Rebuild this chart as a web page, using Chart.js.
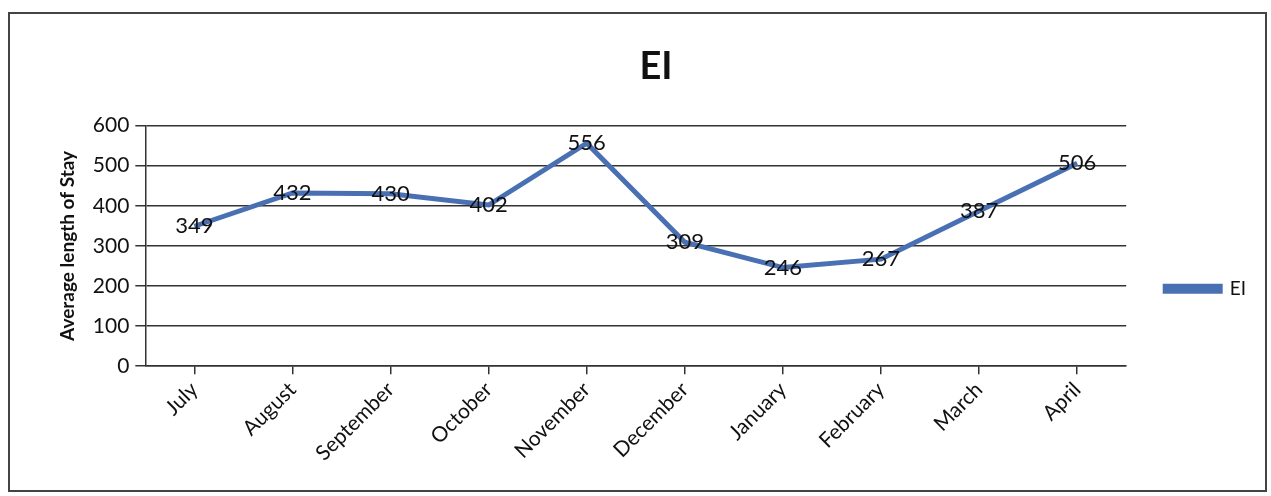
<!DOCTYPE html>
<html>
<head>
<meta charset="utf-8">
<script src="https://cdn.jsdelivr.net/npm/chart.js@4"></script>
<style>
  body { margin: 0; background: #fff; }
  #box {
    position: absolute; left: 8px; top: 12px;
    width: 1255px; height: 476px;
    border: 2px solid #444;
  }
</style>
</head>
<body>
<div id="box"><canvas id="ei-chart" width="1255" height="476"></canvas></div>
<script>
var months = ['July', 'August', 'September', 'October', 'November', 'December', 'January', 'February', 'March', 'April'];
var stay = [349, 432, 430, 402, 556, 309, 246, 267, 387, 506];
var yTicks = [0, 100, 200, 300, 400, 500, 600];

var valueLabels = {
    id: 'valueLabels',
    afterDatasetsDraw: function(chart) {
        var ctx = chart.ctx;
        var meta = chart.getDatasetMeta(0);
        ctx.save();
        ctx.font = '22px Lato';
        ctx.fillStyle = '#111';
        ctx.textAlign = 'center';
        ctx.textBaseline = 'middle';
        meta.data.forEach(function(pt, i) {
            ctx.fillText(stay[i], pt.x, pt.y);
        });
        ctx.restore();
    }
};

var eiChart = new Chart(document.getElementById('ei-chart'), {
    type: 'line',
    data: {
        labels: months,
        datasets: [{
            label: 'EI',
            data: stay,
            fill: false,
            borderColor: '#4a70b4',
            backgroundColor: '#4a70b4',
            borderWidth: 5,
            pointRadius: 0,
            tension: 0
        }]
    },
    options: {
        responsive: false,
        animation: false,
        layout: { padding: { top: 10, right: 9, bottom: 21, left: 46 } },
        plugins: {
            title: {
                display: true,
                text: 'EI',
                color: '#111',
                font: { family: 'Lato', size: 38, weight: 'bold' },
                padding: { top: 20, bottom: 36 }
            },
            legend: {
                position: 'right',
                title: { display: true, text: ' ', padding: { top: 70, bottom: 0 } },
                labels: {
                    boxWidth: 55,
                    boxHeight: 5,
                    color: '#111',
                    padding: 39,
                    font: { family: 'Lato', size: 19 }
                }
            },
            tooltip: { enabled: false }
        },
        scales: {
            x: {
                offset: true,
                grid: { drawOnChartArea: false, drawTicks: true, tickLength: 8, color: '#333', lineWidth: 1.5 },
                border: { color: '#333', width: 1.5 },
                ticks: {
                    color: '#111',
                    maxRotation: 45,
                    minRotation: 45,
                    font: { family: 'Lato', size: 21 }
                }
            },
            y: {
                min: 0,
                max: 600,
                afterBuildTicks: function(axis) {
                    axis.ticks = yTicks.map(function(v) { return { value: v }; });
                },
                grid: { color: '#333', lineWidth: 1.5, tickLength: 10 },
                border: { color: '#333', width: 1.5 },
                ticks: {
                    color: '#111',
                    padding: 6,
                    font: { family: 'Lato', size: 21 }
                },
                title: {
                    display: true,
                    text: 'Average length of Stay',
                    color: '#111',
                    font: { family: 'Lato', size: 19, weight: 'bold' },
                    padding: { top: 0, bottom: 8 }
                }
            }
        }
    },
    plugins: [valueLabels]
});
</script>
</body>
</html>
